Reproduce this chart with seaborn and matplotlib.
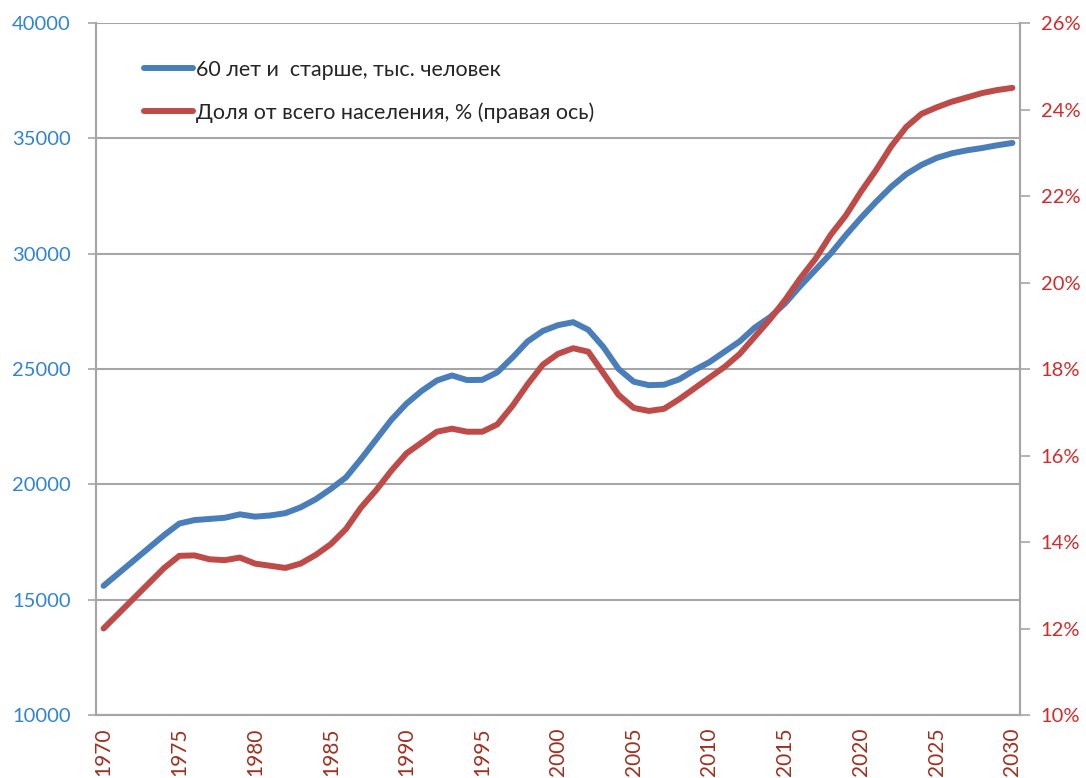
import numpy as np
import pandas as pd
import matplotlib
matplotlib.use("Agg")
import matplotlib.pyplot as plt
from matplotlib.ticker import FuncFormatter, MultipleLocator, FixedLocator
import seaborn as sns

years = list(range(1970, 2031))

# 60+ population, thousands (left axis)
elderly = [15600, 16150, 16700, 17250, 17800, 18300, 18450, 18500, 18550, 18700,
           18600, 18650, 18750, 19000, 19350, 19800, 20300, 21100, 21950, 22800,
           23500, 24050, 24500, 24720, 24520, 24530, 24860, 25500, 26200, 26650,
           26900, 27030, 26700, 25950, 25000, 24450, 24300, 24320, 24550, 24950,
           25300, 25750, 26200, 26800, 27250, 27850, 28600, 29300, 30000, 30800,
           31550, 32250, 32900, 33450, 33850, 34150, 34350, 34480, 34580, 34700,
           34800]

# share of total population, % (right axis)
share = [12.0, 12.35, 12.7, 13.05, 13.4, 13.68, 13.69, 13.6, 13.58, 13.64,
         13.5, 13.45, 13.4, 13.5, 13.7, 13.95, 14.3, 14.8, 15.2, 15.65,
         16.05, 16.3, 16.55, 16.62, 16.55, 16.55, 16.72, 17.15, 17.65, 18.1,
         18.35, 18.48, 18.4, 17.9, 17.4, 17.1, 17.03, 17.08, 17.3, 17.55,
         17.8, 18.05, 18.35, 18.75, 19.15, 19.6, 20.1, 20.55, 21.1, 21.55,
         22.1, 22.6, 23.15, 23.6, 23.9, 24.05, 24.18, 24.28, 24.38, 24.45,
         24.5]

label_elderly = "60 лет и  старше, тыс. человек"
label_share = "Доля от всего населения, % (правая ось)"

df = pd.DataFrame({"year": years, "elderly": elderly, "share": share})

sns.set_style("white")
plt.rcParams["font.family"] = ["Lato", "DejaVu Sans"]

blue = "#4A7EBB"
red = "#BE4B48"
grid_c = "#A6A6A6"

fig = plt.figure(figsize=(10.86, 7.78), dpi=100)
ax = fig.add_axes([96 / 1086, 1 - 715 / 778, (1020 - 96) / 1086, (715 - 23) / 778])
ax2 = ax.twinx()

sns.lineplot(data=df, x="year", y="elderly", ax=ax, color=blue, lw=4.3,
             label=label_elderly, legend=False, solid_capstyle="round")
sns.lineplot(data=df, x="year", y="share", ax=ax2, color=red, lw=4.3,
             label=label_share, legend=False, solid_capstyle="round")

ax.set_xlim(1969.5, 2030.5)
ax.set_ylim(10000, 40000)
ax2.set_ylim(10, 26)

ax.yaxis.set_major_locator(MultipleLocator(5000))
ax2.yaxis.set_major_locator(MultipleLocator(2))
ax.xaxis.set_major_locator(FixedLocator(list(range(1970, 2031, 5))))
ax.xaxis.set_minor_locator(FixedLocator([y + 0.5 for y in range(1969, 2031)]))
ax.xaxis.set_major_formatter(FuncFormatter(lambda v, p: f"{int(v)}"))
ax2.yaxis.set_major_formatter(FuncFormatter(lambda v, p: f"{v:.0f}%"))

ax.grid(axis="y", color=grid_c, lw=1.5)
ax.set_axisbelow(True)

for a in (ax, ax2):
    a.set_xlabel("")
    a.set_ylabel("")
    for s in a.spines.values():
        s.set_color(grid_c)
        s.set_linewidth(1.5)
    a.spines["top"].set_visible(False)

ax.tick_params(axis="y", direction="out", length=6, width=1.2, color=grid_c,
               pad=12, labelsize=14.5, labelcolor="#2F84D6")
ax2.tick_params(axis="y", direction="out", length=7, width=1.2, color=grid_c,
                pad=8, labelsize=14.5, labelcolor="#D42A2A")
ax.tick_params(axis="x", which="major", length=0, pad=9, labelsize=15,
               labelcolor="#A0301E", labelrotation=90)
ax.tick_params(axis="x", which="minor", direction="out", length=6, width=1.2,
               color=grid_c)
ax2.tick_params(axis="x", which="both", length=0)

h1, l1 = ax.get_legend_handles_labels()
h2, l2 = ax2.get_legend_handles_labels()
ax2.legend(h1 + h2, l1 + l2, loc="upper left",
           bbox_to_anchor=(135 / 1086, 1 - 51 / 778), bbox_transform=fig.transFigure,
           frameon=False, fontsize=15.5, handlelength=2.3, handletextpad=0.15,
           labelspacing=1.05, borderaxespad=0)

fig.savefig("out.png", dpi=100)
